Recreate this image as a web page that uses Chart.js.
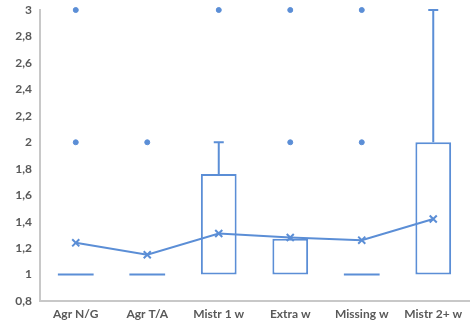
<!DOCTYPE html>
<html>
<head>
<meta charset="utf-8">
<script src="https://cdn.jsdelivr.net/npm/chart.js@4"></script>
<style>
  html, body { margin: 0; padding: 0; background: #fff; }
  #wrap { width: 476px; height: 324px; }
</style>
</head>
<body>
<div id="wrap"><canvas id="box"></canvas></div>
<script>
const categories = ["Agr N/G", "Agr T/A", "Mistr 1 w", "Extra w", "Missing w", "Mistr 2+ w"]
const q1 = [1, 1, 1, 1, 1, 1]
const q3 = [1, 1, 1.76, 1.27, 1, 2]
const medians = [1, 1, 1, 1, 1, 1]
const whiskerLow = [1, 1, 1, 1, 1, 1]
const whiskerHigh = [1, 1, 2, 1.27, 1, 3]
const means = [1.24, 1.15, 1.31, 1.28, 1.26, 1.42]
const outliers = [[2, 3], [2], [3], [2, 3], [2, 3], []]
const yTicks = [0.8, 1, 1.2, 1.4, 1.6, 1.8, 2, 2.2, 2.4, 2.6, 2.8, 3]

const BLUE = "#5b8ed6"

const outlierPoints = []
outliers.forEach((list, i) => {
    list.forEach(v => outlierPoints.push({ x: categories[i], y: v }))
})

// whiskers, caps and median lines on top of the floating bars
const boxExtras = {
    id: "boxExtras",
    afterDatasetsDraw(chart) {
        const ctx = chart.ctx
        const x = chart.scales.x
        const y = chart.scales.y
        const half = x.getPixelForValue(1) - x.getPixelForValue(0)
        const boxHalf = half * 0.25
        ctx.save()
        ctx.strokeStyle = BLUE
        ctx.lineWidth = 2
        categories.forEach((c, i) => {
            const cx = x.getPixelForValue(i)
            // median (skip when it sits on a box edge that is already drawn)
            const flat = q1[i] === q3[i]
            if (flat || (medians[i] !== q1[i] && medians[i] !== q3[i])) {
                const my = y.getPixelForValue(medians[i])
                ctx.beginPath()
                ctx.moveTo(cx - boxHalf, my)
                ctx.lineTo(cx + boxHalf, my)
                ctx.stroke()
            }
            // upper whisker
            if (whiskerHigh[i] > q3[i]) {
                const top = y.getPixelForValue(whiskerHigh[i])
                ctx.beginPath()
                ctx.moveTo(cx, y.getPixelForValue(q3[i]))
                ctx.lineTo(cx, top)
                ctx.moveTo(cx - 5, top)
                ctx.lineTo(cx + 5, top)
                ctx.stroke()
            }
            // lower whisker
            if (whiskerLow[i] < q1[i]) {
                const bot = y.getPixelForValue(whiskerLow[i])
                ctx.beginPath()
                ctx.moveTo(cx, y.getPixelForValue(q1[i]))
                ctx.lineTo(cx, bot)
                ctx.moveTo(cx - 5, bot)
                ctx.lineTo(cx + 5, bot)
                ctx.stroke()
            }
        })
        ctx.restore()
    }
}

const fmt = (v) => Number(v.toFixed(1)).toString().replace(".", ",")

const tickFont = { family: "Lato", size: 12, weight: "bold" }

const chart = new Chart(document.getElementById("box"), {
    type: "bar",
    data: {
        labels: categories,
        datasets: [{
            type: "line",
            label: "Mean",
            data: means,
            borderColor: BLUE,
            backgroundColor: BLUE,
            borderWidth: 2,
            pointStyle: "crossRot",
            pointRadius: 5,
            pointBorderWidth: 2,
            clip: false,
            order: 0
        }, {
            type: "line",
            label: "Outliers",
            data: outlierPoints,
            showLine: false,
            borderColor: BLUE,
            backgroundColor: BLUE,
            pointRadius: 2.5,
            clip: false,
            order: 1
        }, {
            label: "Box",
            data: q1.map((v, i) => [v, q3[i]]),
            backgroundColor: "#ffffff",
            borderColor: BLUE,
            borderWidth: 2,
            borderSkipped: false,
            barPercentage: 0.5,
            categoryPercentage: 1,
            order: 2
        }]
    },
    options: {
        responsive: true,
        maintainAspectRatio: false,
        animation: false,
        layout: { padding: { top: 10, right: 0, left: 0, bottom: 0 } },
        plugins: {
            legend: { display: false },
            tooltip: { enabled: false }
        },
        scales: {
            x: {
                grid: { display: false, drawTicks: false },
                border: { color: "#c8c8c8", width: 2 },
                ticks: { color: "#595959", font: tickFont, padding: 6 },
                afterFit: (s) => { s.height = 23; s.paddingLeft = 0; s.paddingRight = 0 }
            },
            y: {
                min: 0.8,
                max: 3,
                grid: { display: false, drawTicks: false },
                border: { color: "#c8c8c8", width: 2 },
                afterBuildTicks: (s) => { s.ticks = yTicks.map(v => ({ value: v })) },
                ticks: {
                    color: "#595959",
                    font: tickFont,
                    padding: 8,
                    callback: (v) => fmt(v)
                },
                afterFit: (s) => { s.width = 40; s.paddingTop = 0; s.paddingBottom = 0 }
            }
        }
    },
    plugins: [boxExtras]
})
</script>
</body>
</html>
